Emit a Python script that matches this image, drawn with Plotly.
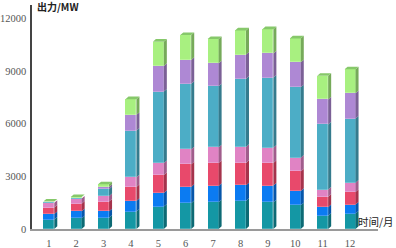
import plotly.graph_objects as go

months = ["1", "2", "3", "4", "5", "6", "7", "8", "9", "10", "11", "12"]
series_names = ["类型1", "类型2", "类型3", "类型4", "类型5", "类型6", "类型7"]
s1 = [540, 600, 640, 990, 1280, 1470, 1520, 1600, 1520, 1350, 750, 880]
s2 = [310, 410, 370, 610, 775, 925, 930, 890, 950, 820, 490, 510]
s3 = [370, 430, 550, 795, 1020, 1290, 1305, 1270, 1290, 1110, 590, 720]
s4 = [270, 290, 310, 550, 680, 850, 890, 910, 870, 780, 415, 530]
s5 = [20, 30, 400, 2650, 4070, 3730, 3480, 3880, 3990, 4010, 3710, 3650]
s6 = [20, 20, 125, 910, 1460, 1360, 1310, 1380, 1380, 1420, 1420, 1440]
s7 = [30, 40, 150, 890, 1380, 1420, 1380, 1380, 1380, 1360, 1345, 1360]
series = [s1, s2, s3, s4, s5, s6, s7]
y_ticks = [0, 3000, 6000, 9000, 12000]

front_colors = ["#1497A4", "#0B7BF2", "#E8496B", "#E083C4", "#4CADC6", "#AE88D4", "#A8F080"]
side_colors = ["#0D6A74", "#0756AA", "#A5334C", "#A05D8C", "#357B8D", "#7B6096", "#76AA5A"]
top_color = "#86C86A"

BAR_W = 0.40
DX = 0.11
DY = 150

xs = [i + 1 for i in range(len(months))]

fig = go.Figure()

# front faces
for name, vals, col in zip(series_names, series, front_colors):
    fig.add_trace(go.Bar(x=xs, y=vals, name=name, width=BAR_W,
                         marker=dict(color=col, line=dict(width=0.6, color="rgba(255,255,255,0.35)")),
                         showlegend=False))

# side faces
base = [0] * len(months)
for vals, scol in zip(series, side_colors):
    px, py = [], []
    for i, v in enumerate(vals):
        xr = xs[i] + BAR_W / 2
        b = base[i]
        t = b + v
        px += [xr, xr + DX, xr + DX, xr, xr, None]
        py += [b, b + DY, t + DY, t, b, None]
        base[i] = t
    fig.add_trace(go.Scatter(x=px, y=py, mode="lines", fill="toself", fillcolor=scol,
                             line=dict(width=0, color=scol), hoverinfo="skip", showlegend=False))

# top faces
px, py = [], []
for i in range(len(months)):
    xl = xs[i] - BAR_W / 2
    xr = xs[i] + BAR_W / 2
    t = base[i]
    px += [xl, xl + DX, xr + DX, xr, xl, None]
    py += [t, t + DY, t + DY, t, t, None]
fig.add_trace(go.Scatter(x=px, y=py, mode="lines", fill="toself", fillcolor=top_color,
                         line=dict(width=0, color=top_color), hoverinfo="skip", showlegend=False))

serif = "Liberation Serif, Times New Roman, serif"
fig.update_layout(
    width=396, height=248,
    margin=dict(l=32, r=18, t=5, b=18.5, autoexpand=False),
    barmode="stack", bargap=0,
    plot_bgcolor="white", paper_bgcolor="white",
    xaxis=dict(range=[0.387, 13.02], tickmode="array", tickvals=xs, ticktext=months,
               showgrid=False, zeroline=False, showline=True, linecolor="#9a9a9a", linewidth=2,
               ticks="", tickfont=dict(family=serif, size=10.5, color="#555555"),
               ticklabelstandoff=3, automargin=False),
    yaxis=dict(range=[0, 12755], tickvals=y_ticks, ticktext=[str(v) for v in y_ticks],
               showgrid=False, zeroline=False, showline=True, linecolor="#444444", linewidth=1.5,
               ticks="", tickfont=dict(family=serif, size=10.5, color="#555555"),
               ticklabelstandoff=2, automargin=False),
    annotations=[
        dict(text="<b>出力/MW</b>", xref="paper", yref="paper", x=0.01, y=0.995,
             xanchor="left", yanchor="middle", showarrow=False,
             font=dict(family="Noto Sans CJK SC", size=10, color="#222222")),
        dict(text="时间/月", xref="paper", yref="paper", x=1.052, y=0.034,
             xanchor="right", yanchor="middle", showarrow=False,
             font=dict(family="Noto Sans CJK SC", size=10.5, color="#222222")),
    ],
)

fig.write_html("out.html", config={"displayModeBar": False},
               post_script="document.body.style.margin='0';document.body.style.overflow='hidden';")
